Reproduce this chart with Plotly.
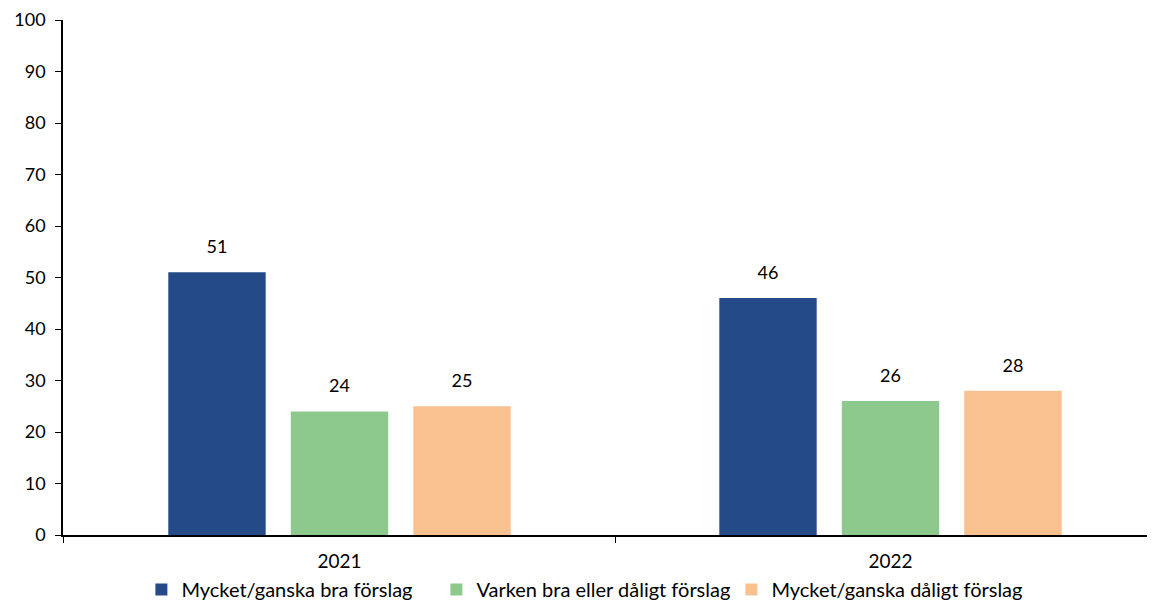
import plotly.graph_objects as go

years = ["2021", "2022"]
series_names = ["Mycket/ganska bra förslag", "Varken bra eller dåligt förslag", "Mycket/ganska dåligt förslag"]
bra = [51, 46]
varken = [24, 26]
daligt = [25, 28]
colors = ["#244B87", "#8DC88D", "#F9C190"]

FONT = "Lato, Carlito, Arial"

fig = go.Figure()
for i, (name, vals, c) in enumerate(zip(series_names, [bra, varken, daligt], colors)):
    fig.add_trace(go.Bar(
        x=years, y=vals, name=name, marker=dict(color=c, line=dict(width=0)),
        offsetgroup=str(i),
    ))
for i, vals in enumerate([bra, varken, daligt]):
    fig.add_trace(go.Scatter(
        x=years, y=vals, mode="markers+text", text=[str(v) for v in vals],
        textposition="top center", textfont=dict(size=18, color="#000000", family=FONT),
        marker=dict(size=22, opacity=0), showlegend=False, hoverinfo="skip",
        offsetgroup=str(i), cliponaxis=False,
    ))

fig.update_layout(
    barmode="group", bargap=0.333, bargroupgap=0.205,
    scattermode="group", scattergap=0.333,
    width=1147, height=594,
    margin=dict(l=55, r=0, t=12, b=67, autoexpand=False),
    paper_bgcolor="white", plot_bgcolor="white",
    font=dict(family=FONT, size=18, color="#000000"),
    showlegend=True,
    legend=dict(orientation="h", x=0.477, xanchor="center", y=-0.068, yanchor="top",
                font=dict(size=20), traceorder="normal", itemwidth=30,
                entrywidth=250, entrywidthmode="pixels"),
    xaxis=dict(type="category", range=[-0.5018, 1.480], showline=True, linecolor="#000000", linewidth=1.5,
               ticks="outside", tickson="boundaries", ticklen=6, tickcolor="#000000",
               showgrid=False, tickfont=dict(size=19), automargin=False, ticklabelstandoff=8),
    yaxis=dict(range=[0, 100], dtick=10, showline=True, linecolor="#000000", linewidth=1.5,
               ticks="outside", ticklen=6, tickcolor="#000000", showgrid=False,
               zeroline=False, tickfont=dict(size=18), automargin=False, ticklabelstandoff=6),
)

fig.write_html("out.html")
